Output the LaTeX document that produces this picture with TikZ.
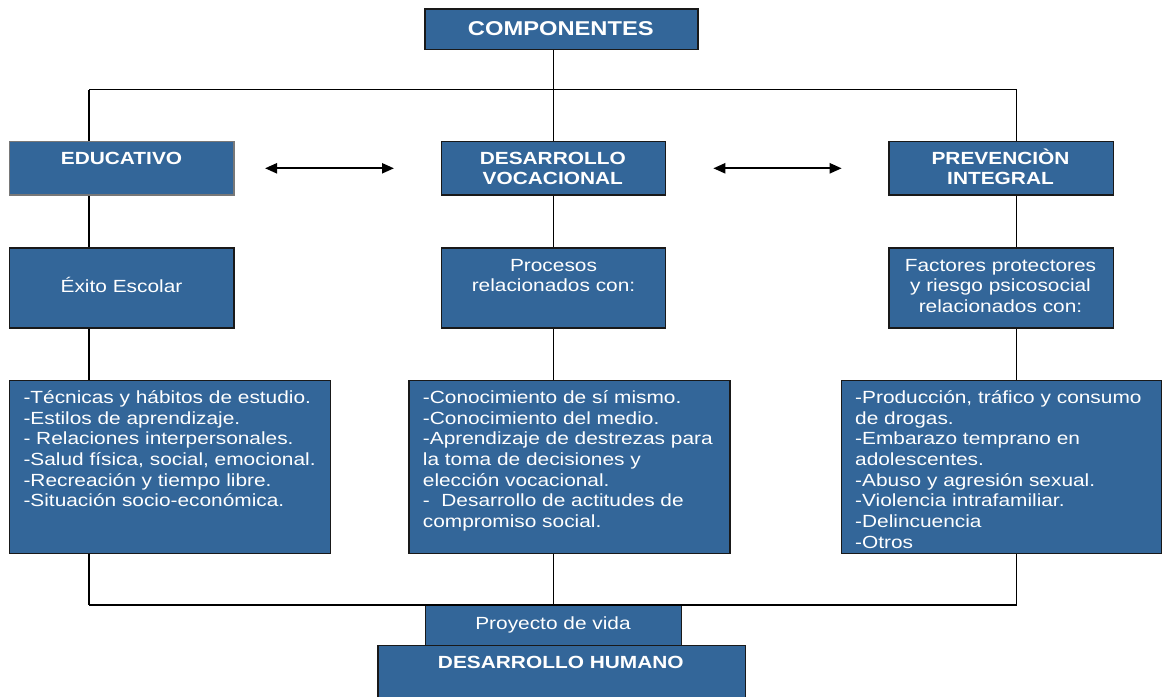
\documentclass[tikz,border=0pt]{standalone}
\usepackage{fontspec}
\setmainfont{Liberation Sans}
\usetikzlibrary{arrows.meta}
\definecolor{boxblue}{RGB}{51,102,153}
\definecolor{edgecol}{RGB}{25,25,25}
\definecolor{edugray}{RGB}{120,120,120}
\newcommand\hs[1]{\scalebox{1.185}[1]{#1}}
\newcommand\bodyfont{\fontsize{17.6}{20.7}\selectfont}
\newcommand\headfont{\fontsize{17.6}{20.7}\selectfont\bfseries}
\newcommand\compfont{\fontsize{20}{24}\selectfont\bfseries}
\tikzset{
  box/.style={draw=edgecol, line width=1.2pt, fill=boxblue, rectangle, inner sep=0pt, anchor=north west},
  txt/.style={text=white, inner sep=0pt, anchor=base},
  ltxt/.style={text=white, inner sep=0pt, anchor=base west},
  conn/.style={draw=black, line width=1.4pt},
  dbl/.style={line width=2.2pt, {Triangle[length=12pt,width=10pt]}-{Triangle[length=12pt,width=10pt]}}
}
\begin{document}
\begin{tikzpicture}[x=1pt,y=-1pt]
\useasboundingbox (0,0) rectangle (1164,696);
% boxes
\node[box, minimum width=273pt, minimum height=40.7pt] (comp) at (424.3,8.3) {};
\node[box, draw=edugray, minimum width=224.3pt, minimum height=53.3pt] (edu) at (9,141) {};
\node[box, minimum width=224.5pt, minimum height=53.3pt] (desvoc) at (440.5,141) {};
\node[box, minimum width=224.4pt, minimum height=53.3pt] (prev) at (888.3,141) {};
\node[box, minimum width=224.3pt, minimum height=80pt] (exito) at (9,247.3) {};
\node[box, minimum width=224.5pt, minimum height=80pt] (proc) at (440.5,247.3) {};
\node[box, minimum width=224.4pt, minimum height=80pt] (fact) at (888.3,247.3) {};
\node[box, minimum width=321pt, minimum height=172.7pt] (llist) at (9,380) {};
\node[box, minimum width=321pt, minimum height=172.7pt] (mlist) at (408.3,380) {};
\node[box, minimum width=320.3pt, minimum height=172.7pt] (rlist) at (840.7,380) {};
\node[box, minimum width=367.7pt, minimum height=60pt] (dh) at (377.3,645) {};
\node[box, minimum width=256pt, minimum height=40pt] (proy) at (425,605) {};
% texts
\node[txt] (tcomp) at (560.8,35) {\compfont\hs{COMPONENTES}};
\node[txt] (tedu) at (121.5,164.2) {\headfont\hs{EDUCATIVO}};
\node[txt] (tdesvoc) at (552.8,164.2) {\headfont\hs{\begin{tabular}[t]{@{}c@{}}DESARROLLO\\VOCACIONAL\end{tabular}}};
\node[txt] (tprev) at (1000.5,164.2) {\headfont\hs{\begin{tabular}[t]{@{}c@{}}PREVENCIÒN\\INTEGRAL\end{tabular}}};
\node[txt] (texito) at (121.5,292.7) {\bodyfont\hs{Éxito Escolar}};
\node[txt] (tproc) at (553.5,271) {\bodyfont\hs{\begin{tabular}[t]{@{}c@{}}Procesos\\relacionados con:\end{tabular}}};
\node[txt] (tfact) at (1000.5,271) {\bodyfont\hs{\begin{tabular}[t]{@{}c@{}}Factores protectores\\y riesgo psicosocial\\relacionados con:\end{tabular}}};
\node[ltxt] (tllist) at (23.3,403.3) {\bodyfont\hs{\begin{tabular}[t]{@{}l@{}}-Técnicas y hábitos de estudio.\\-Estilos de aprendizaje.\\- Relaciones interpersonales.\\-Salud física, social, emocional.\\-Recreación y tiempo libre.\\-Situación socio-económica.\end{tabular}}};
\node[ltxt] (tmlist) at (422.7,403.3) {\bodyfont\hs{\begin{tabular}[t]{@{}l@{}}-Conocimiento de sí mismo.\\-Conocimiento del medio.\\-Aprendizaje de destrezas para\\la toma de decisiones y\\elección vocacional.\\-\ \ Desarrollo de actitudes de\\compromiso social.\end{tabular}}};
\node[ltxt] (trlist) at (855,403.3) {\bodyfont\hs{\begin{tabular}[t]{@{}l@{}}-Producción, tráfico y consumo\\de drogas.\\-Embarazo temprano en\\adolescentes.\\-Abuso y agresión sexual.\\-Violencia intrafamiliar.\\-Delincuencia\\-Otros\end{tabular}}};
\node[txt] (tproy) at (553,629.3) {\bodyfont\hs{Proyecto de vida}};
\node[txt] (tdh) at (560.8,668.3) {\headfont\hs{DESARROLLO HUMANO}};
% connector corners
\coordinate (tl) at (89,89.5);
\coordinate (tr) at (1016.7,89.5);
\coordinate (bl) at (89,605);
\coordinate (br) at (1016.7,605);
% connectors
\draw[conn] (desvoc.north |- comp.south) -- (desvoc.north);
\draw[conn] (tl) -- (tr);
\draw[conn] (bl) -- (br);
\draw[conn] (tl) -- (tl |- edu.north);
\draw[conn] (tl |- edu.south) -- (tl |- exito.north);
\draw[conn] (tl |- exito.south) -- (tl |- llist.north);
\draw[conn] (tl |- llist.south) -- (bl);
\draw[conn] (tr) -- (tr |- prev.north);
\draw[conn] (tr |- prev.south) -- (tr |- fact.north);
\draw[conn] (tr |- fact.south) -- (tr |- rlist.north);
\draw[conn] (tr |- rlist.south) -- (br);
\draw[conn] (desvoc.south) -- (proc.north);
\draw[conn] (proc.south) -- (proc.south |- mlist.north);
\draw[conn] (proc.south |- mlist.south) -- (proc.south |- proy.north);
% double arrows
\coordinate (a1l) at (265,168.3);
\coordinate (a1r) at (394,168.3);
\coordinate (a2l) at (713.3,168.3);
\coordinate (a2r) at (841.7,168.3);
\draw[dbl] (a1l) -- (a1r);
\draw[dbl] (a2l) -- (a2r);
\end{tikzpicture}
\end{document}
